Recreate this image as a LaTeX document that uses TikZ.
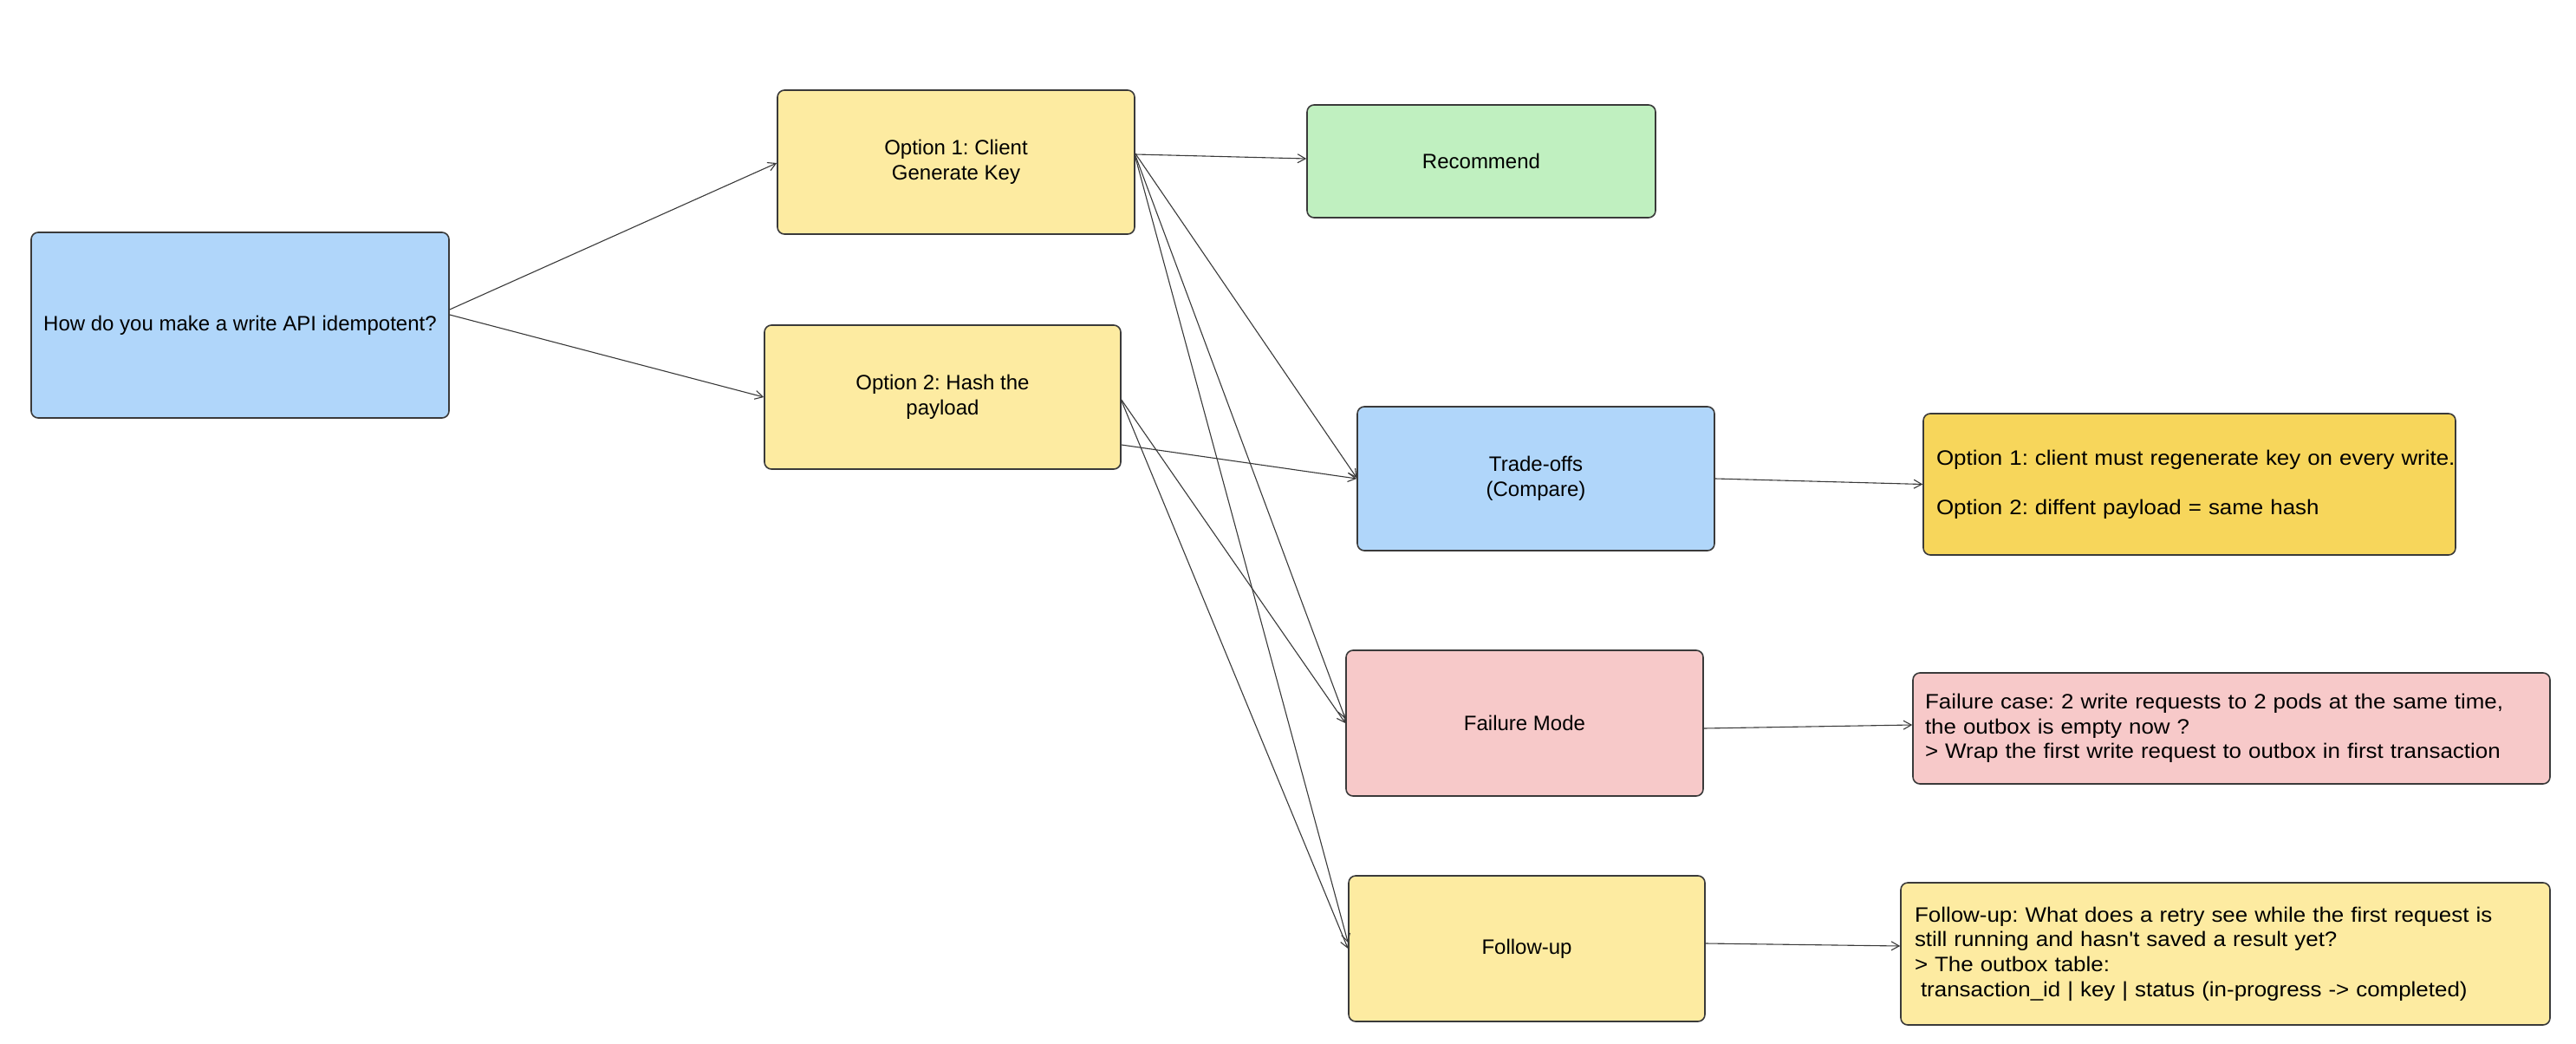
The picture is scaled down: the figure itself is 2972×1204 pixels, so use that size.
\documentclass[tikz,border=0pt]{standalone}
\usepackage{fontspec}
\setmainfont{Liberation Sans}
\newfontfamily\notefont[FakeStretch=1.08]{Liberation Sans}
\usetikzlibrary{arrows.meta,calc}
\definecolor{cblue}{HTML}{B0D6FA}
\definecolor{cyellow}{HTML}{FDEBA1}
\definecolor{cgreen}{HTML}{C0F0C0}
\definecolor{cgold}{HTML}{F7D65B}
\definecolor{cpink}{HTML}{F7C9C9}
\definecolor{cline}{HTML}{3A3A3A}
\hbadness=10000 \hfuzz=100pt
\tikzset{
  box/.style={draw=cline, line width=1.6pt, rounded corners=8pt, inner sep=0pt,
    align=center, font=\frenchspacing\fontsize{24}{29.5}\selectfont},
  note/.style={box, align=left, font=\frenchspacing\notefont\fontsize{24}{28.7}\selectfont},
  conn/.style={draw=cline, line width=1.1pt, -{Straight Barb[length=9pt,width=10pt,line width=1.1pt]}}
}
\begin{document}
\begin{tikzpicture}[x=1pt,y=-1pt]
\useasboundingbox (0,0) rectangle (2972,1204);
\fill[white] (0,0) rectangle (2972,1204);

\node[box, fill=cblue, minimum width=482pt, minimum height=214pt] (main) at (277,375)
  {How do you make a write API idempotent?};
\node[box, fill=cyellow, minimum width=412pt, minimum height=166pt] (opt1) at (1103,187)
  {Option 1: Client\\Generate Key};
\node[box, fill=cyellow, minimum width=411pt, minimum height=166pt] (opt2) at (1087.5,458)
  {Option 2: Hash the\\payload};
\node[box, fill=cgreen, minimum width=402pt, minimum height=130pt] (rec) at (1709,186)
  {Recommend};
\node[box, fill=cblue, minimum width=412pt, minimum height=166pt] (trade) at (1772,552)
  {Trade-offs\\(Compare)};
\node[box, fill=cpink, minimum width=412pt, minimum height=168pt] (fail) at (1759,834)
  {Failure Mode};
\node[box, fill=cyellow, minimum width=411pt, minimum height=168pt] (follow) at (1761.5,1094)
  {Follow-up};

\node[note, fill=cgold, text width=584pt, inner xsep=15pt, minimum height=163pt] (tnote) at (2526,558.5)
  {\mbox{Option 1: client must regenerate key on every write.}\\[28.7pt]Option 2: diffent payload = same hash};
\node[note, fill=cpink, text width=707pt, inner xsep=14pt, minimum height=128pt] (fnote) at (2574.5,840)
  {\mbox{Failure case: 2 write requests to 2 pods at the same time,}\\the outbox is empty now ?\\\mbox{> Wrap the first write request to outbox in first transaction}};
\node[note, fill=cyellow, text width=717pt, inner xsep=16pt, minimum height=164pt] (funote) at (2567.5,1100)
  {\mbox{Follow-up: What does a retry see while the first request is}\\still running and hasn't saved a result yet?\\> The outbox table:\\\hspace*{7pt}\mbox{transaction\_id | key | status (in-progress -> completed)}};

\draw[conn] ($(main.east)+(0,-18)$) -- ($(opt1.west)+(0,1)$);
\draw[conn] ($(main.east)+(0,-12)$) -- (opt2.west);
\draw[conn] ($(opt1.east)+(0,-9)$) -- ($(rec.west)+(0,-3)$);
\draw[conn] ($(opt1.east)+(0,-10)$) -- ($(trade.west)+(0,-1)$);
\draw[conn] ($(opt1.east)+(0,-8)$) -- ($(fail.west)+(0,-5)$);
\draw[conn] ($(opt1.east)+(0,-6)$) -- ($(follow.west)+(0,-7)$);
\draw[conn] ($(opt2.east)+(0,55)$) -- (trade.west);
\draw[conn] ($(opt2.east)+(0,3)$) -- (fail.west);
\draw[conn] ($(opt2.east)+(0,4)$) -- (follow.west);
\draw[conn] (trade.east) -- (tnote.west);
\draw[conn] ($(fail.east)+(0,6)$) -- ($(fnote.west)+(0,-4)$);
\draw[conn] ($(follow.east)+(0,-6)$) -- ($(funote.west)+(0,-9)$);
\end{tikzpicture}
\end{document}
